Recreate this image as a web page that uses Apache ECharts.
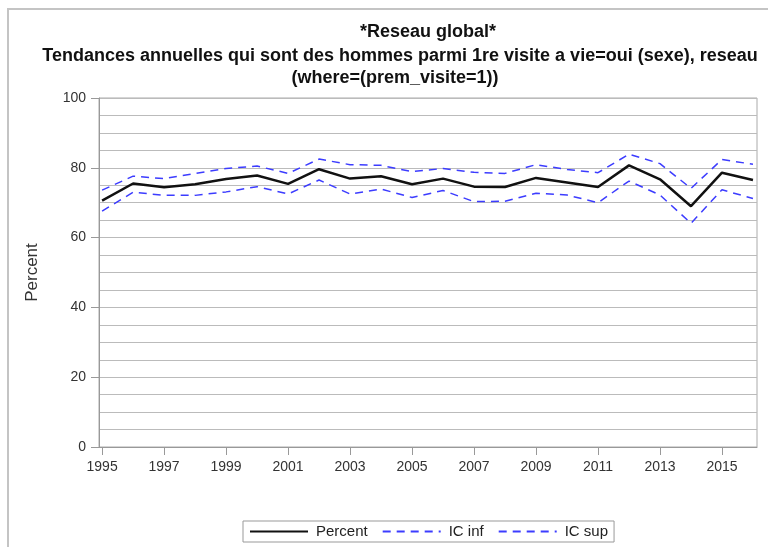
<!DOCTYPE html>
<html>
<head>
<meta charset="utf-8">
<script src="https://cdn.jsdelivr.net/npm/echarts@6/dist/echarts.min.js"></script>
<style>
  html, body { margin: 0; padding: 0; background: #fff; }
  #chart { width: 768px; height: 547px; }
</style>
</head>
<body>
<div id="chart"></div>
<script>
// annual values
const years = [1995, 1996, 1997, 1998, 1999, 2000, 2001, 2002, 2003, 2004, 2005,
               2006, 2007, 2008, 2009, 2010, 2011, 2012, 2013, 2014, 2015, 2016];
const percent = [70.6, 75.5, 74.4, 75.3, 76.8, 77.8, 75.4, 79.6, 76.9, 77.6, 75.3,
                 76.9, 74.6, 74.5, 77.1, 75.8, 74.5, 80.7, 76.7, 69.0, 78.6, 76.5];
const icInf = [67.6, 73.0, 72.1, 72.1, 73.1, 74.6, 72.5, 76.5, 72.5, 73.9, 71.5,
               73.5, 70.3, 70.4, 72.7, 72.2, 70.0, 76.2, 72.2, 64.1, 73.7, 71.2];
const icSup = [73.6, 77.6, 76.9, 78.4, 79.8, 80.5, 78.4, 82.5, 80.9, 80.7, 78.9,
               79.8, 78.7, 78.4, 80.9, 79.5, 78.6, 83.9, 81.2, 74.1, 82.4, 81.0];
const xTicks = [1995, 1997, 1999, 2001, 2003, 2005, 2007, 2009, 2011, 2013, 2015];

const chart = echarts.init(document.getElementById('chart'));

function pairs(vals) {
    return years.map((y, i) => [y, vals[i]]);
}

const font = 'Liberation Sans, Arial, sans-serif';
const blue = '#3c3cff';
const titleStyle = { fontFamily: font, fontSize: 18, fontWeight: 'bold', color: '#111' };

const option = {
    animation: false,
    backgroundColor: '#fff',
    title: [
        { text: '*Reseau global*', left: 423, top: 18, textAlign: 'center', textStyle: titleStyle },
        {
            text: 'Tendances annuelles qui sont des hommes parmi 1re visite a vie=oui (sexe), reseau',
            left: 395, top: 42, textAlign: 'center', textStyle: titleStyle
        },
        { text: '(where=(prem_visite=1))', left: 390, top: 64, textAlign: 'center', textStyle: titleStyle }
    ],
    graphic: [
        {
            type: 'rect',
            shape: { x: 8, y: 9, width: 800, height: 600 },
            style: { fill: 'none', stroke: '#c4c4c4', lineWidth: 2 },
            silent: true
        }
    ],
    grid: {
        left: 99, top: 98, width: 658, height: 349,
        show: true, borderColor: '#aaa', borderWidth: 1
    },
    legend: {
        top: 521, left: 243,
        itemWidth: 58, itemHeight: 10, itemGap: 14,
        padding: [3, 6, 3, 6],
        borderColor: '#999', borderWidth: 1,
        itemStyle: { opacity: 0 },
        textStyle: { fontFamily: font, fontSize: 15, color: '#222', padding: [0, 0, 0, 3] },
        data: ['Percent', 'IC inf', 'IC sup']
    },
    xAxis: {
        type: 'value',
        min: 1994.9, max: 2016.13,
        splitLine: { show: false },
        axisLine: { lineStyle: { color: '#999' } },
        axisTick: { customValues: xTicks, length: 8, lineStyle: { color: '#999' } },
        axisLabel: {
            customValues: xTicks, margin: 13,
            formatter: v => String(v),
            fontFamily: font, fontSize: 14, color: '#333'
        }
    },
    yAxis: {
        type: 'value',
        min: 0, max: 100, interval: 20,
        name: 'Percent', nameLocation: 'middle', nameGap: 58,
        nameTextStyle: { fontFamily: font, fontSize: 17, color: '#333' },
        axisLine: { show: true, lineStyle: { color: '#999' } },
        axisTick: { show: true, length: 8, lineStyle: { color: '#999' } },
        axisLabel: { margin: 13, fontFamily: font, fontSize: 14, color: '#333' },
        splitLine: { lineStyle: { color: '#bbb', width: 1 } },
        minorTick: { show: false, splitNumber: 4 },
        minorSplitLine: { show: true, lineStyle: { color: '#bbb', width: 1 } }
    },
    series: [
        {
            name: 'Percent', type: 'line', symbol: 'none',
            data: pairs(percent),
            lineStyle: { color: '#111', width: 2.5 },
            itemStyle: { color: '#111' },
            z: 3
        },
        {
            name: 'IC inf', type: 'line', symbol: 'none',
            data: pairs(icInf),
            lineStyle: { color: blue, width: 1.5, type: [8, 6] },
            itemStyle: { color: blue }
        },
        {
            name: 'IC sup', type: 'line', symbol: 'none',
            data: pairs(icSup),
            lineStyle: { color: blue, width: 1.5, type: [8, 6] },
            itemStyle: { color: blue }
        }
    ]
};

chart.setOption(option);
</script>
</body>
</html>
